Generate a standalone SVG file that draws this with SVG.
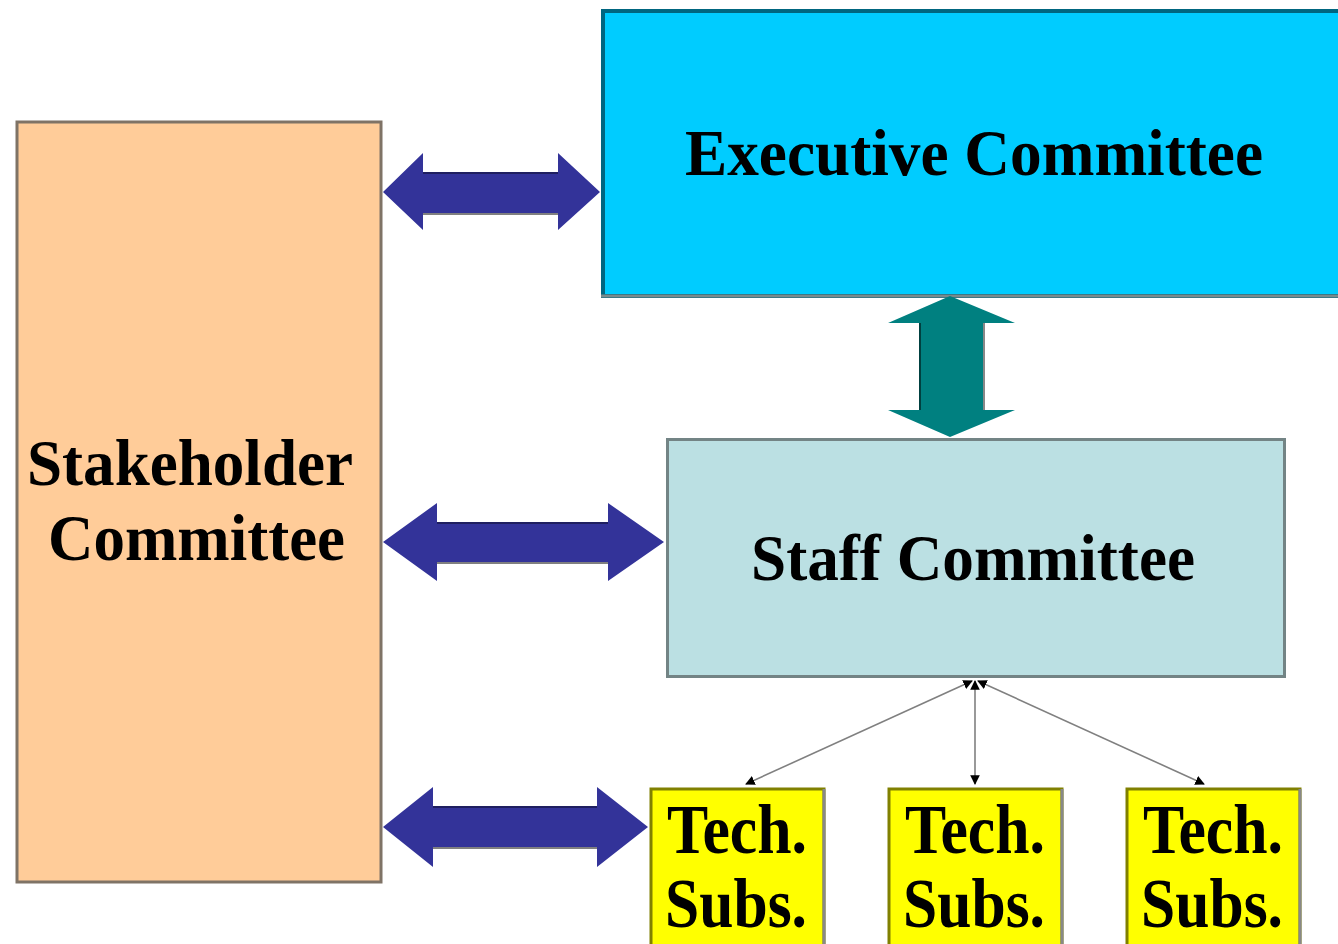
<svg xmlns="http://www.w3.org/2000/svg" width="1338" height="944" viewBox="0 0 1338 944">
<style>
.t{font-family:"Liberation Serif","Times New Roman",serif;font-weight:bold;fill:#000;}
.big{font-size:65px;}
.sm{font-size:69px;}
.tech rect{fill:#FFFF00;stroke:#808000;stroke-width:3;}
.tech line{stroke:#888888;stroke-width:3;}
.dbl{fill:#333399;}
.conn{stroke:#808080;stroke-width:1.6;fill:none;marker-start:url(#ah);marker-end:url(#ah);}
</style>
<defs>
<marker id="ah" viewBox="0 0 10 10" refX="9" refY="5" markerWidth="6" markerHeight="6" orient="auto-start-reverse" markerUnits="strokeWidth">
<path d="M0,0 L10,5 L0,10 z" fill="#000"/>
</marker>
</defs>
<rect width="1338" height="944" fill="#FFFFFF"/>

<g id="stakeholder">
<rect x="17" y="122" width="364" height="760" fill="#FFCC99" stroke="#7F7366" stroke-width="3"/>
<text class="t big" x="27" y="485" textLength="326" lengthAdjust="spacingAndGlyphs">Stakeholder</text>
<text class="t big" x="48" y="560" textLength="297" lengthAdjust="spacingAndGlyphs">Committee</text>
</g>

<g id="executive">
<rect x="603" y="11" width="737" height="285" fill="#00CCFF" stroke="#006680" stroke-width="4"/>
<line x1="601" y1="296" x2="1338" y2="296" stroke="#7A8A8C" stroke-width="3"/>
<text class="t big" x="685" y="175" textLength="578" lengthAdjust="spacingAndGlyphs">Executive Committee</text>
</g>

<g id="staff">
<rect x="667.5" y="439.5" width="617" height="237" fill="#BBE0E3" stroke="#738485" stroke-width="3"/>
<text class="t big" x="751" y="580" textLength="444" lengthAdjust="spacingAndGlyphs">Staff Committee</text>
</g>

<g id="tech1" class="tech">
<rect x="651" y="789" width="173" height="200"/>
<line x1="824" y1="789" x2="824" y2="944"/>
<text class="t sm" x="667" y="853" textLength="140" lengthAdjust="spacingAndGlyphs">Tech.</text>
<text class="t sm" x="665" y="927" textLength="142" lengthAdjust="spacingAndGlyphs">Subs.</text>
</g>
<g id="tech2" class="tech">
<rect x="889" y="789" width="173" height="200"/>
<line x1="1062" y1="789" x2="1062" y2="944"/>
<text class="t sm" x="905" y="853" textLength="140" lengthAdjust="spacingAndGlyphs">Tech.</text>
<text class="t sm" x="903" y="927" textLength="142" lengthAdjust="spacingAndGlyphs">Subs.</text>
</g>
<g id="tech3" class="tech">
<rect x="1127" y="789" width="173" height="200"/>
<line x1="1300" y1="789" x2="1300" y2="944"/>
<text class="t sm" x="1143" y="853" textLength="140" lengthAdjust="spacingAndGlyphs">Tech.</text>
<text class="t sm" x="1141" y="927" textLength="142" lengthAdjust="spacingAndGlyphs">Subs.</text>
</g>

<g id="connectors">
<polygon class="dbl" points="383,192 423,153 423,173 558,173 558,153 600,192 558,230 558,213 423,213 423,230"/>
<line x1="423" y1="173" x2="558" y2="173" stroke="#1F1F60" stroke-width="2"/>
<line x1="423" y1="214" x2="558" y2="214" stroke="#808080" stroke-width="2"/>

<polygon class="dbl" points="383,542 437,503 437,523 608,523 608,503 664,542 608,581 608,562 437,562 437,581"/>
<line x1="437" y1="523" x2="608" y2="523" stroke="#1F1F60" stroke-width="2"/>
<line x1="437" y1="563" x2="608" y2="563" stroke="#808080" stroke-width="2"/>

<polygon class="dbl" points="383,827 433,787 433,807 597,807 597,787 648,827 597,867 597,847 433,847 433,867"/>
<line x1="433" y1="807" x2="597" y2="807" stroke="#1F1F60" stroke-width="2"/>
<line x1="433" y1="848" x2="597" y2="848" stroke="#808080" stroke-width="2"/>

<polygon points="950,296 1015,323 983,323 983,410 1015,410 950,437 888,410 920,410 920,323 888,323" fill="#008080"/>
<line x1="920" y1="323" x2="920" y2="410" stroke="#004040" stroke-width="2"/>
<line x1="984" y1="323" x2="984" y2="410" stroke="#888888" stroke-width="2"/>

<line class="conn" x1="972" y1="681" x2="746" y2="784"/>
<line class="conn" x1="975" y1="681" x2="975" y2="784"/>
<line class="conn" x1="978" y1="681" x2="1204" y2="784"/>
</g>
</svg>
